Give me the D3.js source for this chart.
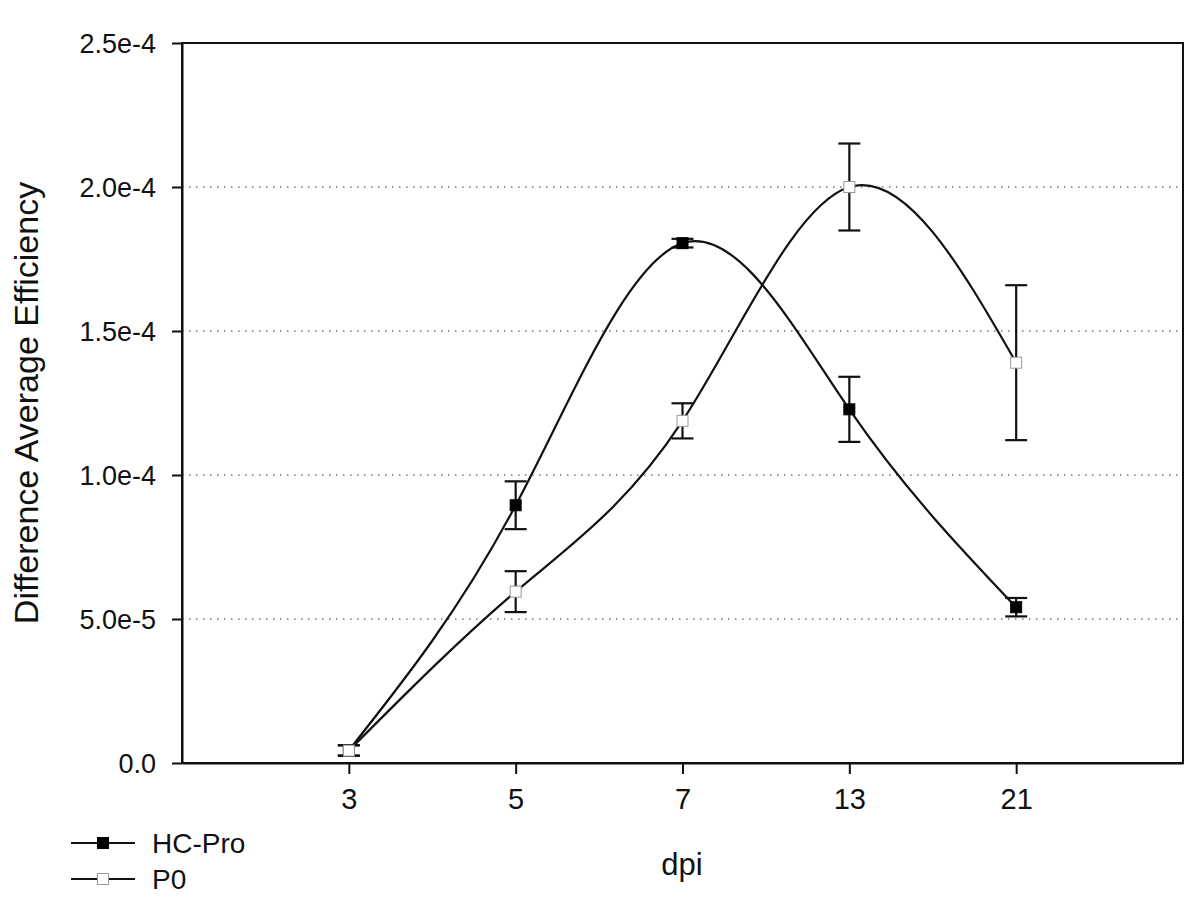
<!DOCTYPE html>
<html><head><meta charset="utf-8">
<script src="https://cdn.jsdelivr.net/npm/d3@7"></script>
<style>body{margin:0;background:#fff}svg{display:block}text{font-family:"Liberation Sans",Arial,sans-serif;fill:#111}</style>
</head><body>
<svg id="c" width="1200" height="907"></svg>
<script>
const categories = ["3","5","7","13","21"];
const hcPro    = [4.4e-6, 8.95e-5, 1.805e-4, 1.228e-4, 5.41e-5];
const hcProErr = [1.8e-6, 8.3e-6, 1.5e-6, 1.13e-5, 3.2e-6];
const p0       = [4.3e-6, 5.95e-5, 1.188e-4, 2.0e-4, 1.39e-4];
const p0Err    = [1.8e-6, 7.1e-6, 6.1e-6, 1.51e-5, 2.69e-5];
const yTicks = [0, 5e-5, 1e-4, 1.5e-4, 2e-4, 2.5e-4];
const gridTicks = [5e-5, 1e-4, 1.5e-4, 2e-4];
const seriesNames = ["HC-Pro", "P0"];

const L=182, R=1183, T=43, B=763;
const svg = d3.select("#c");
const x = d3.scalePoint().domain(categories).range([L,R]).padding(1);
const y = d3.scaleLinear().domain([0,2.5e-4]).range([B,T]);

// grid
svg.append("g").selectAll("line").data(gridTicks).join("line")
  .attr("x1",L).attr("x2",R).attr("y1",d=>y(d)).attr("y2",d=>y(d))
  .attr("stroke","#777").attr("stroke-width",1.5).attr("stroke-dasharray","1.5,5.5");

// frame
svg.append("rect").attr("x",L).attr("y",T).attr("width",R-L).attr("height",B-T)
  .attr("fill","none").attr("stroke","#111").attr("stroke-width",2);

// axes
const fmt = d => d===0 ? "0.0" : d3.format(".1e")(d);
const yAxis = svg.append("g").attr("transform",`translate(${L},0)`)
  .call(d3.axisLeft(y).tickValues(yTicks).tickFormat(fmt).tickSize(10).tickSizeOuter(0).tickPadding(16));
yAxis.selectAll("text").style("font-size","27px").attr("dy","0.36em");
const xAxis = svg.append("g").attr("transform",`translate(0,${B})`)
  .call(d3.axisBottom(x).tickSize(11).tickSizeOuter(0).tickPadding(14));
xAxis.selectAll("text").style("font-size","29px").attr("dy","0.71em");
[yAxis,xAxis].forEach(a=>{a.select(".domain").attr("stroke","#111").attr("stroke-width",2);
  a.selectAll(".tick line").attr("stroke","#111").attr("stroke-width",2);});

// titles
svg.append("text").attr("transform","translate(38,403) rotate(-90)")
  .attr("text-anchor","middle").style("font-size","34px").text("Difference Average Efficiency");
svg.append("text").attr("x",682).attr("y",875).attr("text-anchor","middle")
  .style("font-size","31px").text("dpi");

const series = [
  {name:seriesNames[0], v:hcPro, e:hcProErr, fill:"#000", stroke:"#000"},
  {name:seriesNames[1], v:p0, e:p0Err, fill:"#fff", stroke:"#999"}
];
const line = d3.line().x((d,i)=>x(categories[i])).y(d=>y(d)).curve(d3.curveNatural);
series.forEach(s=>{
  svg.append("path").attr("d",line(s.v)).attr("fill","none").attr("stroke","#111").attr("stroke-width",2.2);
});
series.forEach(s=>{
  const g = svg.append("g");
  s.v.forEach((v,i)=>{
    const cx = x(categories[i]), y1=y(v+s.e[i]), y0=y(v-s.e[i]);
    g.append("line").attr("x1",cx).attr("x2",cx).attr("y1",y1).attr("y2",y0).attr("stroke","#111").attr("stroke-width",2.2);
    [y1,y0].forEach(yy=>g.append("line").attr("x1",cx-11).attr("x2",cx+11).attr("y1",yy).attr("y2",yy).attr("stroke","#111").attr("stroke-width",2.2));
  });
});
series.forEach(s=>{
  svg.append("g").selectAll("rect").data(s.v).join("rect")
    .attr("x",(d,i)=>x(categories[i])-5.5).attr("y",d=>y(d)-5.5)
    .attr("width",11).attr("height",11).attr("fill",s.fill).attr("stroke",s.stroke).attr("stroke-width",1);
});

// legend
series.forEach((s,i)=>{
  const ly = 843 + i*36;
  svg.append("line").attr("x1",71).attr("x2",135).attr("y1",ly).attr("y2",ly).attr("stroke","#111").attr("stroke-width",2);
  svg.append("rect").attr("x",97.5).attr("y",ly-5.5).attr("width",11).attr("height",11)
    .attr("fill",s.fill).attr("stroke",s.stroke).attr("stroke-width",1);
  svg.append("text").attr("x",152).attr("y",ly+10).style("font-size","28px").text(s.name);
});
</script>
</body></html>
